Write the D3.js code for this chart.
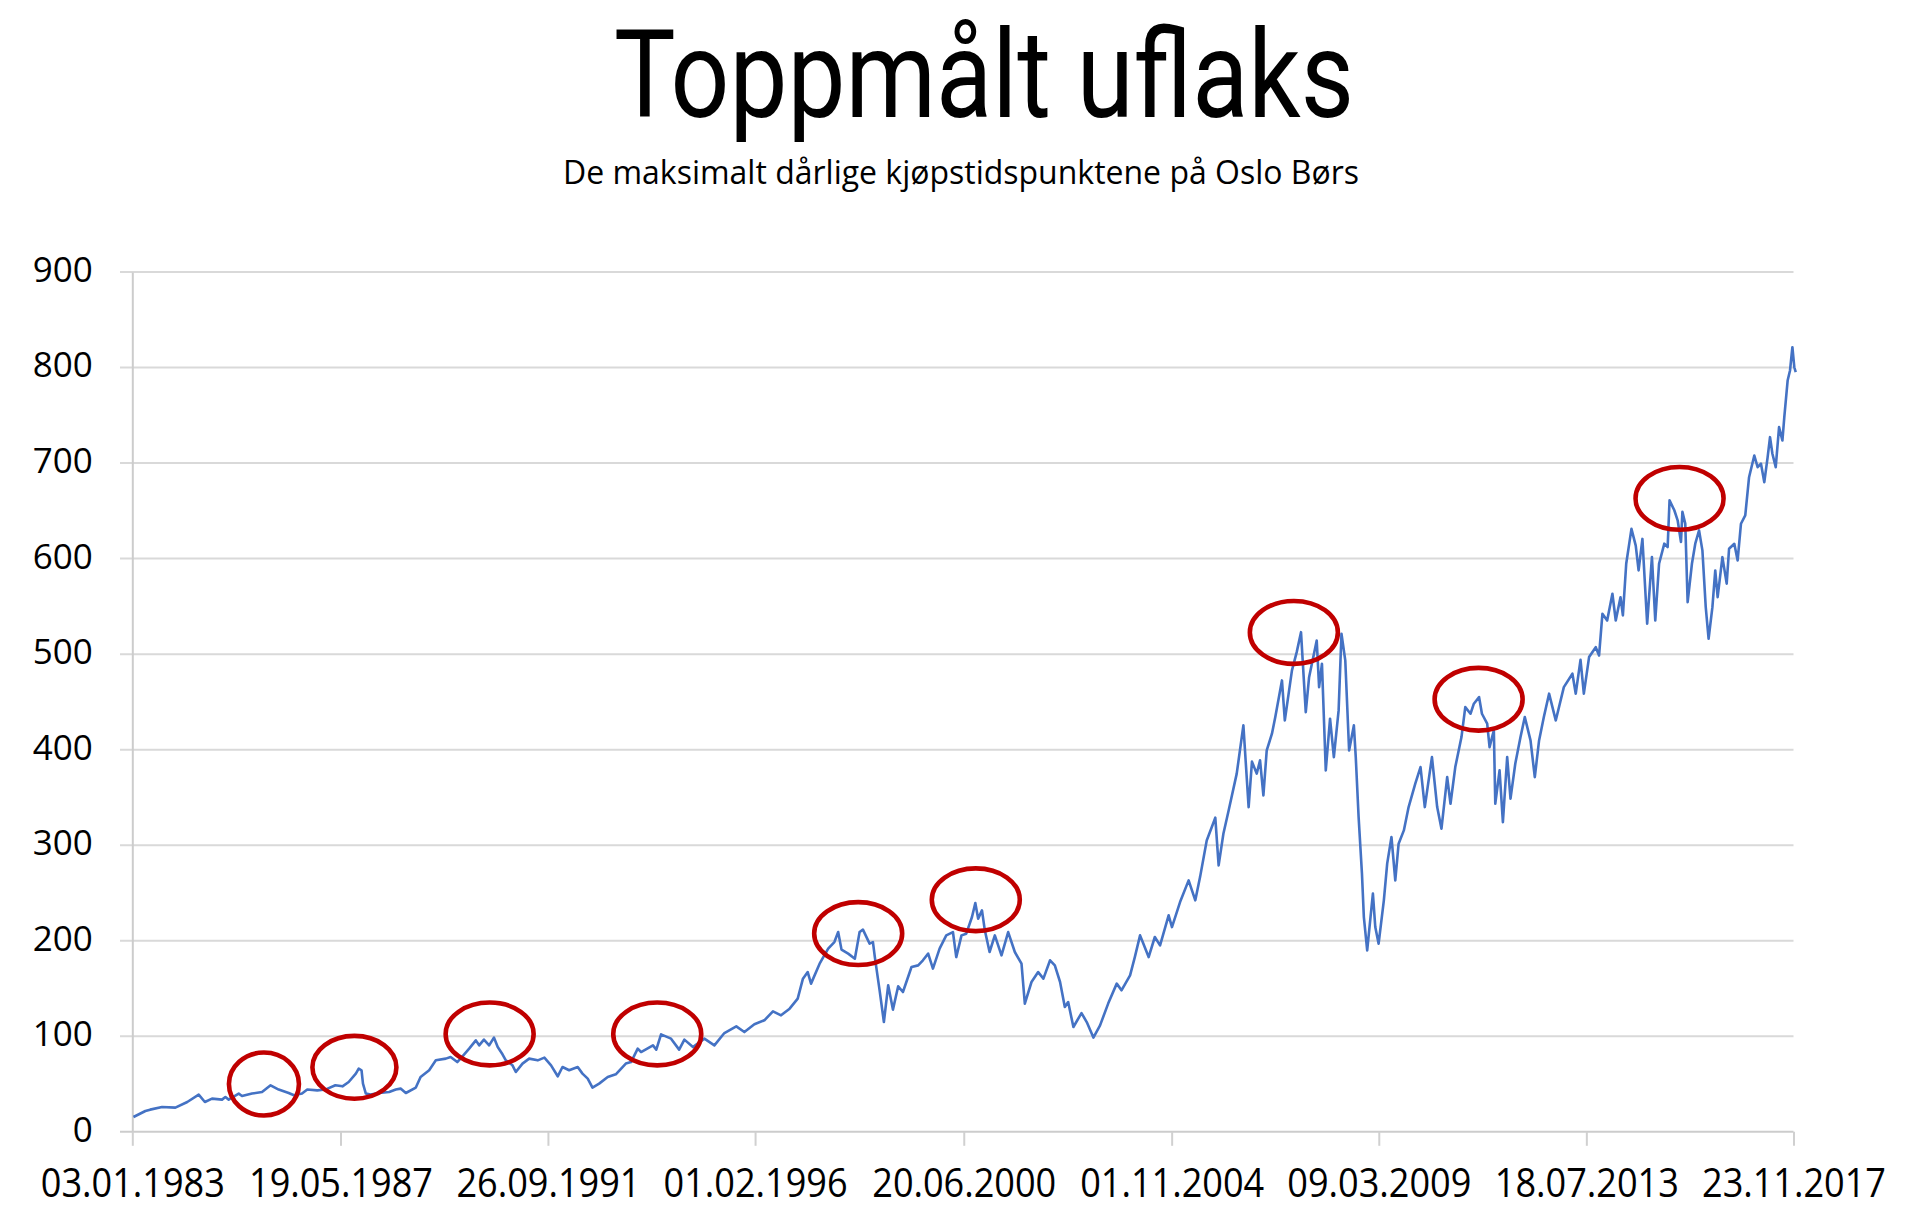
<!DOCTYPE html>
<html><head><meta charset="utf-8">
<script src="https://cdn.jsdelivr.net/npm/d3@7/dist/d3.min.js"></script>
<style>html,body{margin:0;padding:0;background:#fff;} svg{display:block;}</style>
</head><body>
<svg id="chart" width="1920" height="1221"></svg>
<script>
const titleText = "Toppmålt uflaks";
const subtitleText = "De maksimalt dårlige kjøpstidspunktene på Oslo Børs";
const xTickLabels = ["03.01.1983","19.05.1987","26.09.1991","01.02.1996","20.06.2000","01.11.2004","09.03.2009","18.07.2013","23.11.2017"];
const yTickValues = [0,100,200,300,400,500,600,700,800,900];

// decimal year of each reading
const years = [1983.03,1983.28,1983.38,1983.63,1983.91,1984.16,1984.40,1984.53,1984.68,1984.89,1984.96,1985.03,1985.24,1985.31,1985.52,1985.73,1985.91,1986.08,1986.29,1986.40,1986.57,1986.68,1986.89,1987.06,1987.27,1987.42,1987.55,1987.70,1987.76,1987.82,1987.85,1987.91,1988.01,1988.19,1988.40,1988.54,1988.64,1988.75,1988.96,1989.06,1989.24,1989.38,1989.59,1989.69,1989.83,1989.94,1990.08,1990.22,1990.29,1990.39,1990.50,1990.60,1990.68,1990.78,1990.85,1990.99,1991.06,1991.20,1991.34,1991.52,1991.66,1991.80,1991.94,1992.04,1992.18,1992.36,1992.46,1992.57,1992.67,1992.81,1992.99,1993.16,1993.37,1993.48,1993.62,1993.69,1993.94,1994.01,1994.11,1994.32,1994.49,1994.60,1994.78,1995.02,1995.23,1995.44,1995.69,1995.86,1996.07,1996.28,1996.46,1996.63,1996.81,1996.98,1997.09,1997.19,1997.26,1997.44,1997.62,1997.75,1997.83,1997.90,1998.04,1998.18,1998.28,1998.35,1998.49,1998.56,1998.60,1998.70,1998.79,1998.88,1998.98,1999.09,1999.19,1999.37,1999.51,1999.61,1999.72,1999.82,1999.96,2000.10,2000.24,2000.31,2000.42,2000.52,2000.64,2000.71,2000.77,2000.85,2000.91,2001.01,2001.12,2001.26,2001.40,2001.54,2001.68,2001.75,2001.89,2002.03,2002.14,2002.28,2002.38,2002.49,2002.59,2002.66,2002.77,2002.94,2003.05,2003.19,2003.33,2003.50,2003.68,2003.78,2003.96,2004.06,2004.17,2004.24,2004.35,2004.48,2004.59,2004.77,2004.84,2005.01,2005.19,2005.33,2005.43,2005.57,2005.75,2005.82,2005.92,2006.03,2006.20,2006.34,2006.45,2006.52,2006.62,2006.69,2006.76,2006.83,2006.94,2007.01,2007.15,2007.21,2007.36,2007.46,2007.55,2007.65,2007.72,2007.88,2007.93,2007.99,2008.07,2008.16,2008.24,2008.34,2008.40,2008.48,2008.56,2008.66,2008.70,2008.76,2008.83,2008.87,2008.94,2009.01,2009.06,2009.11,2009.18,2009.29,2009.36,2009.45,2009.53,2009.60,2009.71,2009.81,2009.95,2010.06,2010.15,2010.30,2010.41,2010.50,2010.62,2010.69,2010.79,2010.92,2011.00,2011.11,2011.18,2011.29,2011.35,2011.46,2011.51,2011.60,2011.63,2011.72,2011.79,2011.88,2011.95,2012.05,2012.16,2012.25,2012.37,2012.46,2012.55,2012.65,2012.76,2012.90,2013.07,2013.25,2013.32,2013.42,2013.49,2013.60,2013.74,2013.81,2013.88,2013.98,2014.09,2014.16,2014.26,2014.31,2014.38,2014.49,2014.58,2014.64,2014.72,2014.82,2014.92,2014.99,2015.07,2015.18,2015.25,2015.29,2015.39,2015.46,2015.53,2015.56,2015.62,2015.67,2015.76,2015.83,2015.91,2015.98,2016.05,2016.11,2016.19,2016.25,2016.30,2016.40,2016.49,2016.54,2016.65,2016.72,2016.79,2016.88,2016.96,2017.07,2017.14,2017.21,2017.28,2017.35,2017.40,2017.45,2017.52,2017.59,2017.66,2017.70,2017.77,2017.82,2017.87,2017.91,2017.94];
// index level of each reading
const indexValues = [15.5,21.8,23.2,26.0,25.3,31.2,38.9,31.2,34.7,33.7,36.4,33.7,40.0,37.5,40.0,41.6,48.7,44.2,40.6,38.2,40.0,44.2,43.4,44.2,48.7,47.6,52.1,60.9,66.1,64.4,50.4,40.0,38.9,40.6,41.6,44.2,45.2,40.6,46.3,57.3,64.4,74.8,76.6,78.3,73.0,79.0,87.0,95.7,90.5,96.5,90.5,98.6,88.7,81.1,74.8,69.6,62.6,71.4,76.6,74.8,77.6,69.6,58.1,67.8,64.4,67.8,60.9,55.7,46.3,50.4,57.3,60.2,71.4,73.0,87.0,83.5,90.5,86.0,102.0,97.5,86.0,96.5,88.7,97.5,90.5,103.4,110.4,104.4,112.5,116.7,126.1,121.9,128.9,139.4,160.3,167.2,155.1,176.0,191.7,198.6,209.1,190.7,186.5,181.2,209.1,211.6,197.0,198.6,182.9,148.1,114.9,153.3,127.9,152.3,146.3,172.5,174.2,179.5,186.5,170.8,191.7,205.6,209.1,182.9,205.6,207.4,224.8,239.4,223.1,231.8,210.9,188.2,205.6,184.7,209.1,188.2,176.0,134.2,156.8,167.2,160.3,179.5,174.2,156.8,130.6,135.8,109.7,124.3,114.9,98.6,111.4,134.2,155.1,148.1,163.8,182.9,205.6,196.9,182.9,203.9,195.2,226.6,214.3,240.5,263.2,242.3,266.6,305.0,328.8,278.9,312.0,336.4,374.9,425.4,339.9,387.5,374.9,388.8,352.1,399.2,416.7,434.1,472.5,430.6,483.0,502.1,523.0,439.3,475.9,514.3,465.5,490.0,378.3,432.4,392.2,441.1,521.3,493.4,399.2,425.4,392.2,329.4,270.2,224.8,189.9,224.8,249.3,214.3,196.9,242.3,280.7,308.5,263.2,301.6,315.5,339.9,364.4,381.8,339.9,392.2,339.9,317.3,371.3,343.4,381.8,413.2,444.5,437.6,448.1,455.0,437.6,427.2,402.7,420.2,343.4,378.3,324.2,392.2,348.7,385.3,413.2,434.1,409.7,371.3,409.7,434.1,458.6,430.6,465.5,479.5,458.6,494.0,458.6,496.9,507.3,498.6,542.2,535.2,563.2,535.2,559.6,540.5,594.6,631.1,613.6,587.6,620.6,531.8,601.5,535.2,594.6,615.6,612.1,661.0,650.6,640.1,617.4,648.9,636.6,554.4,594.6,615.6,629.5,608.6,549.2,516.1,549.2,587.6,559.6,601.5,573.8,610.3,615.5,598.1,636.5,645.2,685.2,707.9,695.7,699.3,680.0,706.2,727.1,709.7,695.7,737.6,723.6,748.0,786.4,796.9,821.3,800.3,795.1];

// circled "worst buying moments"
const peakYears = [1985.77,1987.67,1990.51,1994.03,1998.25,2000.72,2007.40,2011.28,2015.50];
const peakValues = [50,67.5,102.4,102.4,207.5,242.9,522.7,452.8,663];

// ---------- layout / styles ----------
const ringRadii = [[35,31.5],[42,31.4],[44,31.4],[44,31.4],[44,31.4],[44,31.4],[44,31.4],[44,31.4],[44,31.4]];
const plotLeft = 132.3, plotRight = 1793.5, plotTop = 272, plotBottom = 1131.8;

const parse = d3.timeParse("%d.%m.%Y");
function decYear(d){
  const y = d.getFullYear();
  const s = new Date(y,0,1), e = new Date(y+1,0,1);
  return y + (d - s)/(e - s);
}
const tickYears = xTickLabels.map(l => decYear(parse(l)));

const x = d3.scaleLinear().domain([tickYears[0], tickYears[tickYears.length-1]]).range([plotLeft, plotRight]);
const y = d3.scaleLinear().domain([0, 900]).range([plotBottom, plotTop]);

const svg = d3.select("#chart");
svg.append("rect").attr("width",1920).attr("height",1221).attr("fill","#fff");

// title
svg.append("text").text(titleText)
  .attr("x", 984).attr("y", 116.7).attr("text-anchor","middle")
  .attr("font-family","Roboto, 'Liberation Sans', sans-serif")
  .attr("font-size",123).attr("fill","#000")
  .attr("textLength",740).attr("lengthAdjust","spacingAndGlyphs");
svg.append("text").text(subtitleText)
  .attr("x", 961).attr("y", 184.3).attr("text-anchor","middle")
  .attr("font-family","'Open Sans', 'Liberation Sans', sans-serif")
  .attr("font-size",33).attr("fill","#000")
  .attr("textLength",796).attr("lengthAdjust","spacingAndGlyphs");

// gridlines
svg.append("g").selectAll("line").data(yTickValues.filter(v=>v>0)).join("line")
  .attr("x1", 120).attr("x2", plotRight)
  .attr("y1", d=>y(d)).attr("y2", d=>y(d))
  .attr("stroke","#d9d9d9").attr("stroke-width",2);
// zero line (x-axis line)
svg.append("line").attr("x1",120).attr("x2",plotRight).attr("y1",y(0)).attr("y2",y(0))
  .attr("stroke","#cccccc").attr("stroke-width",2);

// y axis
const yAxis = svg.append("g").attr("transform",`translate(${plotLeft},0)`)
  .call(d3.axisLeft(y).tickValues(yTickValues).tickSize(0).tickPadding(0));
yAxis.select(".domain").attr("stroke","#cccccc").attr("stroke-width",2);
yAxis.selectAll("text")
  .attr("x", -39.5).attr("dy","0.27em")
  .attr("font-family","'Open Sans', 'Liberation Sans', sans-serif")
  .attr("font-size",35).attr("fill","#000");

// x axis
const xAxis = svg.append("g").attr("transform",`translate(0,${plotBottom})`)
  .call(d3.axisBottom(x).tickValues(tickYears).tickFormat((d,i)=>xTickLabels[i]).tickSize(14).tickSizeOuter(0));
xAxis.select(".domain").remove();
xAxis.selectAll(".tick line").attr("stroke","#d0d0d0").attr("stroke-width",2);
xAxis.selectAll("text")
  .attr("y", 64.9).attr("dy","0")
  .attr("font-family","'Open Sans', 'Liberation Sans', sans-serif")
  .attr("font-size",40).attr("fill","#000")
  .attr("textLength",184).attr("lengthAdjust","spacingAndGlyphs");

// series line
const series = years.map((t,i)=>({t, v:indexValues[i]}));
svg.append("path").datum(series)
  .attr("fill","none").attr("stroke","#4472C4").attr("stroke-width",2.6)
  .attr("stroke-linejoin","round")
  .attr("d", d3.line().x(d=>x(d.t)).y(d=>y(d.v)));

// red rings
svg.append("g").selectAll("ellipse").data(peakYears.map((t,i)=>({t, v:peakValues[i], r:ringRadii[i]}))).join("ellipse")
  .attr("cx", d=>x(d.t)).attr("cy", d=>y(d.v))
  .attr("rx", d=>d.r[0]).attr("ry", d=>d.r[1])
  .attr("fill","none").attr("stroke","#C00000").attr("stroke-width",4.6);
</script>
</body></html>
